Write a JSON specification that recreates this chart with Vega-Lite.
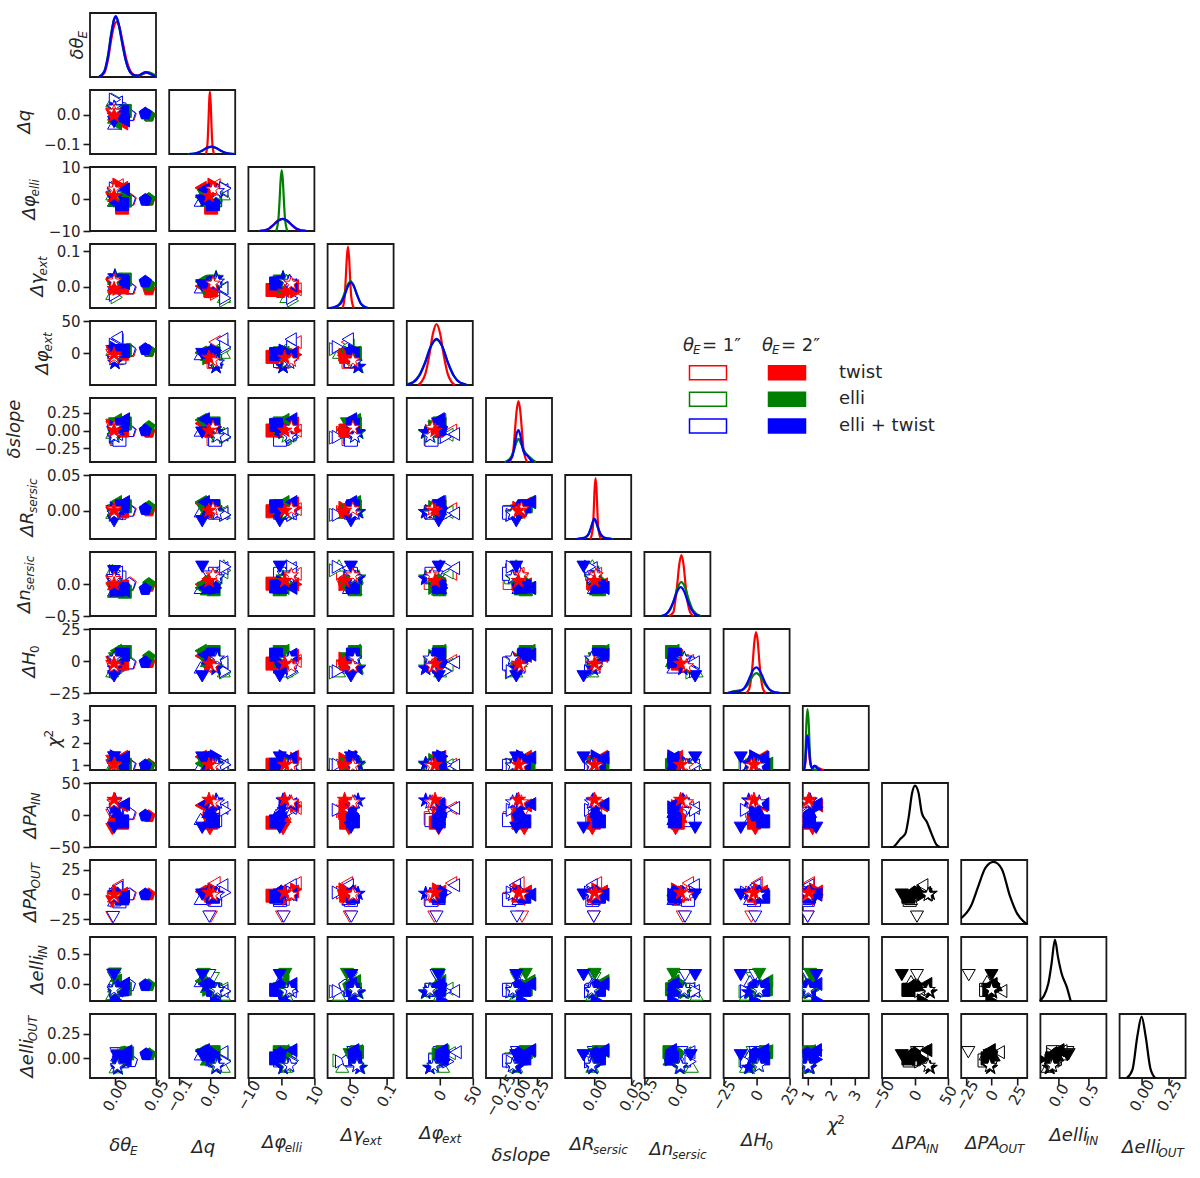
{"$schema":"https://vega.github.io/schema/vega-lite/v6.json","padding":{"left":4,"top":10,"right":5,"bottom":5},"background":"white","bounds":"flush","spacing":{"row":13,"column":13.2},"columns":14,
"config":{"view":{"continuousWidth":66,"continuousHeight":64,"stroke":"#1a1a1a","strokeWidth":1.8},"legend":{"disable":true},"point":{"size":170,"opacity":1,"strokeWidth":1},"line":{"strokeWidth":2.2,"interpolate":"monotone"},"text":{"font":"DejaVu Sans","fontSize":18,"color":"#262626"},
"range":{"category":["blue","blue","green","green","red","red"],"ordinal":["white","blue","white","green","white","red"],"symbol":["M0,-1L0.95,-0.31L0.59,0.81L-0.59,0.81L-0.95,-0.31Z","square","M0,-1.15L0.27,-0.36L1.1,-0.36L0.43,0.14L0.68,0.93L0,0.45L-0.68,0.93L-0.43,0.14L-1.1,-0.36L-0.27,-0.36Z","triangle-down","triangle-left","triangle-right","triangle-up"]},
"axis":{"disable":true,"grid":false,"domain":false,"tickSize":7,"tickWidth":1.6,"tickColor":"#1a1a1a","labelFont":"DejaVu Sans","labelFontSize":15,"labelColor":"#262626","labelOverlap":false,"labelBound":false,"labelFlush":false,"titleFont":"DejaVu Sans","titleFontSize":18,"titleFontStyle":"italic","titleFontWeight":"normal","titleColor":"#262626","titleAlign":"left","titleBaseline":"alphabetic"},
"axisY":{"titleAngle":-90,"labelPadding":3},"axisX":{"titleAngle":0,"labelAngle":-60,"labelAlign":"center","labelBaseline":"middle","labelPadding":10}},
"data":{"name":"pts"},
"datasets":{"pts":[
{"l":"square","s":"twist1","dt":0.006,"q":0.012,"pe":0.4,"ge":0.004,"px":-8,"sl":-0.12,"R":-0.002,"n":-0.03,"H":-2,"chi":1.0,"pai":-5,"pao":-6},
{"l":"triangle-up","s":"twist1","dt":0.004,"q":0,"pe":1,"ge":-0.005,"px":2,"sl":0.02,"R":0,"n":0.1,"H":1,"chi":1.0,"pai":2,"pao":2},
{"l":"triangle-left","s":"twist1","dt":0.007,"q":0.015,"pe":4.3,"ge":0,"px":20,"sl":0,"R":0.002,"n":0.1,"H":0,"chi":1.05,"pai":11,"pao":9},
{"l":"triangle-right","s":"twist1","dt":0.006,"q":0.02,"pe":2,"ge":-0.012,"px":6,"sl":-0.03,"R":-0.002,"n":0.1,"H":-4,"chi":1.02,"pai":6,"pao":0},
{"l":"triangle-down","s":"twist1","dt":0.001,"q":0.003,"pe":0.2,"ge":0.007,"px":-3,"sl":0.05,"R":-0.001,"n":0.03,"H":-4,"chi":1.0,"pai":0,"pao":-23},
{"l":"pentagon","s":"twist1","dt":0.021,"q":-0.003,"pe":-0.2,"ge":-0.006,"px":3,"sl":-0.01,"R":0,"n":0.01,"H":-2,"chi":1,"pai":1,"pao":0},
{"l":"square","s":"elli1","dt":0.007,"q":0.018,"pe":1,"ge":0.008,"px":-7,"sl":-0.1,"R":-0.002,"n":0.05,"H":-3,"chi":1.02,"ei":-0.1,"eo":-0.02},
{"l":"triangle-up","s":"elli1","dt":0.001,"q":0.045,"pe":1.5,"ge":-0.02,"px":5,"sl":-0.03,"R":-0.003,"n":0.22,"H":-8,"chi":1.02,"ei":-0.18,"eo":-0.09},
{"l":"triangle-left","s":"elli1","dt":0.006,"q":0.04,"pe":2.5,"ge":0.004,"px":15,"sl":-0.06,"R":-0.002,"n":0.12,"H":-3,"chi":1.03,"ei":-0.08,"eo":0.04},
{"l":"triangle-right","s":"elli1","dt":0.006,"q":0.05,"pe":3.5,"ge":-0.03,"px":10,"sl":-0.1,"R":-0.006,"n":0.15,"H":-9,"chi":1.05,"ei":-0.13,"eo":-0.03},
{"l":"triangle-down","s":"elli1","dt":0.003,"q":0.01,"pe":0.5,"ge":0.01,"px":2,"sl":-0.02,"R":0,"n":0.02,"H":-3,"chi":1.03,"ei":0.1,"eo":0.05},
{"l":"pentagon","s":"elli1","dt":0.02,"q":-0.001,"pe":-0.2,"ge":-0.005,"px":5,"sl":0,"R":0,"n":-0.02,"H":-1,"chi":1,"ei":-0.03,"eo":-0.03},
{"l":"square","s":"both1","dt":0.009,"q":0.017,"pe":-0.4,"ge":0.01,"px":-7,"sl":-0.13,"R":-0.003,"n":0.1,"H":-2,"chi":1.0,"pai":-8,"pao":-7,"ei":-0.1,"eo":-0.03},
{"l":"triangle-up","s":"both1","dt":0.003,"q":-0.03,"pe":-0.5,"ge":0.005,"px":3,"sl":0,"R":-0.001,"n":-0.1,"H":-5,"chi":1.0,"pai":-6,"pao":-6,"ei":0.05,"eo":0.03},
{"l":"triangle-left","s":"both1","dt":0.006,"q":0.04,"pe":2.8,"ge":0.002,"px":24,"sl":-0.05,"R":-0.004,"n":0.18,"H":-1,"chi":1.02,"pai":11,"pao":7,"ei":-0.12,"eo":0.05},
{"l":"triangle-right","s":"both1","dt":0.004,"q":0.05,"pe":3.3,"ge":-0.023,"px":13,"sl":-0.09,"R":-0.006,"n":0.2,"H":-8,"chi":1.05,"pai":8,"pao":0,"ei":-0.12,"eo":-0.04},
{"l":"triangle-down","s":"both1","dt":0.002,"q":-0.002,"pe":0.7,"ge":0.011,"px":0,"sl":-0.02,"R":-0.001,"n":0.06,"H":-1,"chi":1.0,"pai":3,"pao":-23,"ei":0.15,"eo":0.05},
{"l":"pentagon","s":"both1","dt":0.02,"q":-0.002,"pe":-0.3,"ge":-0.005,"px":4,"sl":-0.01,"R":-0.0005,"n":0,"H":-2,"chi":1,"pai":2,"pao":0,"ei":-0.03,"eo":-0.03},
{"l":"square","s":"twist2","dt":0.012,"q":0.004,"pe":-2.7,"ge":-0.002,"px":-1,"sl":0,"R":-0.001,"n":-0.04,"H":-2,"chi":1.05,"pai":-12,"pao":-3},
{"l":"triangle-up","s":"twist2","dt":0.003,"q":0,"pe":1,"ge":0,"px":0,"sl":0.02,"R":0,"n":0,"H":1,"chi":1.02,"pai":-3,"pao":-2},
{"l":"triangle-left","s":"twist2","dt":0.012,"q":-0.03,"pe":3.5,"ge":0.008,"px":5,"sl":0.1,"R":0.01,"n":-0.05,"H":4,"chi":1.38,"pai":15,"pao":1},
{"l":"triangle-right","s":"twist2","dt":0.008,"q":0.012,"pe":4.5,"ge":-0.006,"px":2,"sl":0,"R":0.004,"n":-0.05,"H":2,"chi":1.3,"pai":14,"pao":3},
{"l":"triangle-down","s":"twist2","dt":0.001,"q":0,"pe":0.5,"ge":0.005,"px":3,"sl":0.08,"R":-0.003,"n":-0.07,"H":-1,"chi":1.2,"pai":-22,"pao":-7},
{"l":"pentagon","s":"twist2","dt":0.042,"q":-0.004,"pe":-0.3,"ge":-0.008,"px":3,"sl":-0.02,"R":0,"n":-0.03,"H":-1,"chi":1.02,"pai":-2,"pao":0},
{"l":"square","s":"elli2","dt":0.015,"q":0.012,"pe":-0.5,"ge":0.02,"px":4,"sl":0.1,"R":0.006,"n":-0.12,"H":7,"chi":1.03,"ei":-0.09,"eo":0.05},
{"l":"triangle-up","s":"elli2","dt":0.003,"q":-0.01,"pe":-0.5,"ge":0.022,"px":2,"sl":0.03,"R":0.002,"n":-0.12,"H":0,"chi":1.05,"ei":-0.05,"eo":-0.02},
{"l":"triangle-left","s":"elli2","dt":0.005,"q":-0.03,"pe":0.6,"ge":0.02,"px":5,"sl":0.15,"R":0.012,"n":-0.1,"H":8,"chi":1.1,"ei":0.05,"eo":0.06},
{"l":"triangle-right","s":"elli2","dt":0.01,"q":-0.005,"pe":2,"ge":0.015,"px":-3,"sl":0.06,"R":0.005,"n":-0.1,"H":4,"chi":1.25,"ei":-0.1,"eo":0.03},
{"l":"triangle-down","s":"elli2","dt":0.004,"q":-0.02,"pe":1.2,"ge":0,"px":2,"sl":0.1,"R":0,"n":-0.1,"H":2,"chi":1.1,"ei":0.17,"eo":0.03},
{"l":"pentagon","s":"elli2","dt":0.042,"q":-0.004,"pe":0,"ge":0.005,"px":3,"sl":0.05,"R":0.005,"n":0,"H":3,"chi":1,"ei":-0.03,"eo":0.04},
{"l":"star","s":"elli2","dt":0.004,"q":0.02,"pe":0.5,"ge":0.03,"px":-15,"sl":-0.03,"R":-0.002,"n":0.05,"H":-5,"chi":1.05,"ei":-0.15,"eo":-0.1},
{"l":"square","s":"both2","dt":0.012,"q":0.01,"pe":-1.6,"ge":0.015,"px":3,"sl":0.08,"R":0.006,"n":-0.08,"H":5,"chi":1.05,"pai":-10,"pao":-4,"ei":-0.1,"eo":-0.01},
{"l":"triangle-up","s":"both2","dt":0.007,"q":-0.005,"pe":0,"ge":0.015,"px":5,"sl":0.02,"R":0.002,"n":-0.1,"H":2,"chi":1.1,"pai":5,"pao":2,"ei":-0.02,"eo":0.02},
{"l":"triangle-left","s":"both2","dt":0.014,"q":-0.02,"pe":3,"ge":0.01,"px":3,"sl":0.16,"R":0.012,"n":-0.1,"H":5,"chi":1.35,"pai":17,"pao":-2,"ei":0,"eo":0.07},
{"l":"triangle-right","s":"both2","dt":0.005,"q":0.02,"pe":1,"ge":0.018,"px":8,"sl":0.05,"R":0.003,"n":-0.1,"H":-1,"chi":1.4,"pai":12,"pao":-2,"ei":-0.28,"eo":-0.02},
{"l":"triangle-down","s":"both2","dt":0.003,"q":-0.025,"pe":-0.5,"ge":0.01,"px":3,"sl":-0.03,"R":-0.015,"n":0.2,"H":-12,"chi":1.35,"pai":-20,"pao":-2,"ei":0.15,"eo":0.02},
{"l":"pentagon","s":"both2","dt":0.038,"q":0.003,"pe":-0.3,"ge":0.014,"px":6,"sl":0,"R":0.002,"n":-0.08,"H":-1,"chi":1,"pai":-1,"pao":0,"ei":-0.03,"eo":0.04},
{"l":"star","s":"both2","dt":0.004,"q":0.02,"pe":0.5,"ge":0.028,"px":-15,"sl":-0.02,"R":-0.002,"n":0.03,"H":-6,"chi":1.1,"pai":23,"pao":-1,"ei":-0.14,"eo":-0.1},
{"l":"star","s":"elli1","dt":0.004,"q":0.02,"pe":1.5,"ge":0.02,"px":-8,"sl":-0.08,"R":-0.003,"n":0.04,"H":1,"chi":1.02,"ei":-0.12,"eo":-0.08},
{"l":"star","s":"both1","dt":0.003,"q":0.024,"pe":2.5,"ge":0.02,"px":-9,"sl":-0.08,"R":-0.004,"n":0.05,"H":2,"chi":1.02,"pai":20,"pao":-2,"ei":-0.1,"eo":-0.08},
{"l":"star","s":"twist1","dt":0.003,"q":0.01,"pe":3,"ge":0.015,"px":-6,"sl":0.04,"R":0.002,"n":0.08,"H":-4,"chi":1,"pai":20,"pao":-2},
{"l":"star","s":"twist2","dt":0.003,"q":-0.003,"pe":1,"ge":-0.006,"px":-2,"sl":0,"R":0,"n":0,"H":-2,"chi":1.05,"pai":24,"pao":0}
],
"c_dt":[{"s":"twist2","x":-0.014,"y":0},{"s":"twist2","x":-0.008,"y":0.06},{"s":"twist2","x":-0.004,"y":0.26},{"s":"twist2","x":0,"y":0.6},{"s":"twist2","x":0.003,"y":0.8},{"s":"twist2","x":0.006,"y":0.86},{"s":"twist2","x":0.009,"y":0.78},{"s":"twist2","x":0.013,"y":0.52},{"s":"twist2","x":0.017,"y":0.26},{"s":"twist2","x":0.021,"y":0.1},{"s":"twist2","x":0.026,"y":0.03},{"s":"twist2","x":0.031,"y":0.02},{"s":"twist2","x":0.036,"y":0.05},{"s":"twist2","x":0.04,"y":0.07},{"s":"twist2","x":0.045,"y":0.04},{"s":"twist2","x":0.05,"y":0.01},
{"s":"elli2","x":-0.014,"y":0},{"s":"elli2","x":-0.008,"y":0.09},{"s":"elli2","x":-0.004,"y":0.33},{"s":"elli2","x":0,"y":0.7},{"s":"elli2","x":0.003,"y":0.9},{"s":"elli2","x":0.005,"y":0.94},{"s":"elli2","x":0.008,"y":0.82},{"s":"elli2","x":0.012,"y":0.53},{"s":"elli2","x":0.016,"y":0.26},{"s":"elli2","x":0.02,"y":0.1},{"s":"elli2","x":0.025,"y":0.03},{"s":"elli2","x":0.03,"y":0.02},{"s":"elli2","x":0.035,"y":0.05},{"s":"elli2","x":0.04,"y":0.075},{"s":"elli2","x":0.045,"y":0.06},{"s":"elli2","x":0.05,"y":0.02},
{"s":"both2","x":-0.014,"y":0},{"s":"both2","x":-0.008,"y":0.08},{"s":"both2","x":-0.004,"y":0.3},{"s":"both2","x":0,"y":0.68},{"s":"both2","x":0.003,"y":0.9},{"s":"both2","x":0.005,"y":0.95},{"s":"both2","x":0.008,"y":0.84},{"s":"both2","x":0.012,"y":0.55},{"s":"both2","x":0.016,"y":0.27},{"s":"both2","x":0.02,"y":0.1},{"s":"both2","x":0.025,"y":0.03},{"s":"both2","x":0.03,"y":0.02},{"s":"both2","x":0.034,"y":0.05},{"s":"both2","x":0.038,"y":0.075},{"s":"both2","x":0.043,"y":0.05},{"s":"both2","x":0.05,"y":0.005}],
"c_q":[{"s":"twist2","x":-0.013,"y":0},{"s":"twist2","x":-0.0075,"y":0.19},{"s":"twist2","x":-0.005,"y":0.47},{"s":"twist2","x":-0.0025,"y":0.8},{"s":"twist2","x":-0.0005,"y":0.97},{"s":"twist2","x":0.001,"y":0.9},{"s":"twist2","x":0.0025,"y":0.8},{"s":"twist2","x":0.005,"y":0.47},{"s":"twist2","x":0.0075,"y":0.19},{"s":"twist2","x":0.013,"y":0},
{"s":"elli2","x":-0.07,"y":0},{"s":"elli2","x":-0.05,"y":0.008},{"s":"elli2","x":-0.038,"y":0.023},{"s":"elli2","x":-0.024,"y":0.056},{"s":"elli2","x":-0.009,"y":0.095},{"s":"elli2","x":0.004,"y":0.11},{"s":"elli2","x":0.019,"y":0.095},{"s":"elli2","x":0.034,"y":0.056},{"s":"elli2","x":0.048,"y":0.023},{"s":"elli2","x":0.063,"y":0.007},{"s":"elli2","x":0.08,"y":0},
{"s":"both2","x":-0.068,"y":0},{"s":"both2","x":-0.05,"y":0.008},{"s":"both2","x":-0.038,"y":0.023},{"s":"both2","x":-0.024,"y":0.056},{"s":"both2","x":-0.009,"y":0.097},{"s":"both2","x":0.005,"y":0.115},{"s":"both2","x":0.019,"y":0.097},{"s":"both2","x":0.034,"y":0.056},{"s":"both2","x":0.048,"y":0.023},{"s":"both2","x":0.063,"y":0.007},{"s":"both2","x":0.08,"y":0}],
"c_pe":[{"s":"twist2","x":-6.6,"y":0.002},{"s":"twist2","x":-5.1,"y":0.012},{"s":"twist2","x":-3.8,"y":0.038},{"s":"twist2","x":-2.5,"y":0.093},{"s":"twist2","x":-1.1,"y":0.16},{"s":"twist2","x":0.3,"y":0.19},{"s":"twist2","x":1.7,"y":0.16},{"s":"twist2","x":3.1,"y":0.093},{"s":"twist2","x":4.4,"y":0.038},{"s":"twist2","x":5.8,"y":0.012},{"s":"twist2","x":7.4,"y":0.002},
{"s":"elli2","x":-1.6,"y":0},{"s":"elli2","x":-0.9,"y":0.19},{"s":"elli2","x":-0.56,"y":0.47},{"s":"elli2","x":-0.23,"y":0.8},{"s":"elli2","x":0.1,"y":0.95},{"s":"elli2","x":0.43,"y":0.8},{"s":"elli2","x":0.76,"y":0.47},{"s":"elli2","x":1.1,"y":0.19},{"s":"elli2","x":1.8,"y":0},
{"s":"both2","x":-6.5,"y":0.002},{"s":"both2","x":-5,"y":0.012},{"s":"both2","x":-3.7,"y":0.038},{"s":"both2","x":-2.4,"y":0.093},{"s":"both2","x":-1,"y":0.16},{"s":"both2","x":0.4,"y":0.19},{"s":"both2","x":1.8,"y":0.16},{"s":"both2","x":3.2,"y":0.093},{"s":"both2","x":4.5,"y":0.038},{"s":"both2","x":5.9,"y":0.012},{"s":"both2","x":7.5,"y":0.002}],
"c_ge":[{"s":"twist2","x":-0.011,"y":0},{"s":"twist2","x":-0.0056,"y":0.19},{"s":"twist2","x":-0.003,"y":0.47},{"s":"twist2","x":-0.0002,"y":0.8},{"s":"twist2","x":0.0025,"y":0.96},{"s":"twist2","x":0.0052,"y":0.8},{"s":"twist2","x":0.008,"y":0.47},{"s":"twist2","x":0.0106,"y":0.19},{"s":"twist2","x":0.017,"y":0},
{"s":"elli2","x":-0.035,"y":0},{"s":"elli2","x":-0.025,"y":0.025},{"s":"elli2","x":-0.017,"y":0.08},{"s":"elli2","x":-0.008,"y":0.2},{"s":"elli2","x":0.001,"y":0.35},{"s":"elli2","x":0.009,"y":0.42},{"s":"elli2","x":0.017,"y":0.35},{"s":"elli2","x":0.026,"y":0.2},{"s":"elli2","x":0.034,"y":0.08},{"s":"elli2","x":0.043,"y":0.025},{"s":"elli2","x":0.052,"y":0},
{"s":"both2","x":-0.045,"y":0},{"s":"both2","x":-0.03,"y":0.02},{"s":"both2","x":-0.016,"y":0.07},{"s":"both2","x":-0.007,"y":0.18},{"s":"both2","x":0.002,"y":0.33},{"s":"both2","x":0.01,"y":0.4},{"s":"both2","x":0.018,"y":0.33},{"s":"both2","x":0.027,"y":0.18},{"s":"both2","x":0.035,"y":0.07},{"s":"both2","x":0.044,"y":0.02},{"s":"both2","x":0.053,"y":0}],
"c_px":[{"s":"twist2","x":-25,"y":0},{"s":"twist2","x":-20,"y":0.06},{"s":"twist2","x":-15,"y":0.19},{"s":"twist2","x":-10,"y":0.46},{"s":"twist2","x":-5,"y":0.8},{"s":"twist2","x":0,"y":0.95},{"s":"twist2","x":5,"y":0.8},{"s":"twist2","x":10,"y":0.46},{"s":"twist2","x":15,"y":0.19},{"s":"twist2","x":20,"y":0.06},{"s":"twist2","x":25,"y":0},
{"s":"elli2","x":-41,"y":0.01},{"s":"elli2","x":-32,"y":0.05},{"s":"elli2","x":-24,"y":0.15},{"s":"elli2","x":-16,"y":0.35},{"s":"elli2","x":-8,"y":0.6},{"s":"elli2","x":0,"y":0.71},{"s":"elli2","x":8,"y":0.6},{"s":"elli2","x":16,"y":0.34},{"s":"elli2","x":24,"y":0.14},{"s":"elli2","x":32,"y":0.04},{"s":"elli2","x":41,"y":0.008},
{"s":"both2","x":-41,"y":0.008},{"s":"both2","x":-32,"y":0.04},{"s":"both2","x":-24,"y":0.14},{"s":"both2","x":-16,"y":0.34},{"s":"both2","x":-8,"y":0.6},{"s":"both2","x":0,"y":0.72},{"s":"both2","x":8,"y":0.6},{"s":"both2","x":16,"y":0.34},{"s":"both2","x":24,"y":0.14},{"s":"both2","x":32,"y":0.04},{"s":"both2","x":41,"y":0.008}],
"c_sl":[{"s":"twist2","x":-0.12,"y":0},{"s":"twist2","x":-0.07,"y":0.19},{"s":"twist2","x":-0.05,"y":0.46},{"s":"twist2","x":-0.025,"y":0.8},{"s":"twist2","x":0,"y":0.95},{"s":"twist2","x":0.025,"y":0.8},{"s":"twist2","x":0.05,"y":0.46},{"s":"twist2","x":0.07,"y":0.19},{"s":"twist2","x":0.12,"y":0},
{"s":"elli2","x":-0.19,"y":0},{"s":"elli2","x":-0.14,"y":0.03},{"s":"elli2","x":-0.1,"y":0.08},{"s":"elli2","x":-0.06,"y":0.19},{"s":"elli2","x":-0.03,"y":0.3},{"s":"elli2","x":0,"y":0.36},{"s":"elli2","x":0.03,"y":0.3},{"s":"elli2","x":0.06,"y":0.22},{"s":"elli2","x":0.1,"y":0.14},{"s":"elli2","x":0.15,"y":0.08},{"s":"elli2","x":0.2,"y":0.03},{"s":"elli2","x":0.24,"y":0},
{"s":"both2","x":-0.17,"y":0},{"s":"both2","x":-0.12,"y":0.03},{"s":"both2","x":-0.08,"y":0.1},{"s":"both2","x":-0.05,"y":0.27},{"s":"both2","x":-0.025,"y":0.44},{"s":"both2","x":0,"y":0.5},{"s":"both2","x":0.025,"y":0.42},{"s":"both2","x":0.05,"y":0.25},{"s":"both2","x":0.08,"y":0.14},{"s":"both2","x":0.12,"y":0.1},{"s":"both2","x":0.17,"y":0.03},{"s":"both2","x":0.21,"y":0}],
"c_R":[{"s":"twist2","x":-0.0055,"y":0},{"s":"twist2","x":-0.0022,"y":0.19},{"s":"twist2","x":-0.001,"y":0.46},{"s":"twist2","x":0.0002,"y":0.8},{"s":"twist2","x":0.0014,"y":0.95},{"s":"twist2","x":0.0026,"y":0.8},{"s":"twist2","x":0.0038,"y":0.46},{"s":"twist2","x":0.005,"y":0.19},{"s":"twist2","x":0.0085,"y":0},
{"s":"elli2","x":-0.024,"y":0},{"s":"elli2","x":-0.017,"y":0.01},{"s":"elli2","x":-0.012,"y":0.03},{"s":"elli2","x":-0.008,"y":0.08},{"s":"elli2","x":-0.004,"y":0.2},{"s":"elli2","x":-0.002,"y":0.27},{"s":"elli2","x":0,"y":0.3},{"s":"elli2","x":0.002,"y":0.27},{"s":"elli2","x":0.004,"y":0.2},{"s":"elli2","x":0.008,"y":0.08},{"s":"elli2","x":0.012,"y":0.03},{"s":"elli2","x":0.017,"y":0.01},{"s":"elli2","x":0.025,"y":0},
{"s":"both2","x":-0.025,"y":0},{"s":"both2","x":-0.018,"y":0.01},{"s":"both2","x":-0.012,"y":0.03},{"s":"both2","x":-0.008,"y":0.08},{"s":"both2","x":-0.004,"y":0.21},{"s":"both2","x":-0.002,"y":0.28},{"s":"both2","x":-0.0005,"y":0.32},{"s":"both2","x":0.002,"y":0.28},{"s":"both2","x":0.004,"y":0.2},{"s":"both2","x":0.008,"y":0.08},{"s":"both2","x":0.012,"y":0.03},{"s":"both2","x":0.017,"y":0.01},{"s":"both2","x":0.024,"y":0}],
"c_n":[{"s":"twist2","x":-0.16,"y":0},{"s":"twist2","x":-0.1,"y":0.06},{"s":"twist2","x":-0.08,"y":0.19},{"s":"twist2","x":-0.05,"y":0.46},{"s":"twist2","x":-0.02,"y":0.8},{"s":"twist2","x":0.01,"y":0.95},{"s":"twist2","x":0.04,"y":0.8},{"s":"twist2","x":0.07,"y":0.46},{"s":"twist2","x":0.1,"y":0.19},{"s":"twist2","x":0.13,"y":0.06},{"s":"twist2","x":0.18,"y":0},
{"s":"elli2","x":-0.26,"y":0},{"s":"elli2","x":-0.19,"y":0.04},{"s":"elli2","x":-0.14,"y":0.11},{"s":"elli2","x":-0.09,"y":0.26},{"s":"elli2","x":-0.04,"y":0.45},{"s":"elli2","x":0.01,"y":0.53},{"s":"elli2","x":0.06,"y":0.45},{"s":"elli2","x":0.11,"y":0.26},{"s":"elli2","x":0.16,"y":0.11},{"s":"elli2","x":0.21,"y":0.04},{"s":"elli2","x":0.28,"y":0},
{"s":"both2","x":-0.27,"y":0},{"s":"both2","x":-0.2,"y":0.03},{"s":"both2","x":-0.15,"y":0.1},{"s":"both2","x":-0.1,"y":0.22},{"s":"both2","x":-0.05,"y":0.38},{"s":"both2","x":0,"y":0.45},{"s":"both2","x":0.05,"y":0.38},{"s":"both2","x":0.1,"y":0.22},{"s":"both2","x":0.15,"y":0.1},{"s":"both2","x":0.2,"y":0.03},{"s":"both2","x":0.27,"y":0}],
"c_H":[{"s":"twist2","x":-8,"y":0},{"s":"twist2","x":-5.7,"y":0.06},{"s":"twist2","x":-4.4,"y":0.19},{"s":"twist2","x":-3,"y":0.46},{"s":"twist2","x":-1.7,"y":0.8},{"s":"twist2","x":-0.4,"y":0.95},{"s":"twist2","x":0.9,"y":0.8},{"s":"twist2","x":2.2,"y":0.46},{"s":"twist2","x":3.6,"y":0.19},{"s":"twist2","x":4.9,"y":0.06},{"s":"twist2","x":7,"y":0},
{"s":"elli2","x":-22,"y":0},{"s":"elli2","x":-17,"y":0.03},{"s":"elli2","x":-13,"y":0.04},{"s":"elli2","x":-10,"y":0.06},{"s":"elli2","x":-7,"y":0.12},{"s":"elli2","x":-4,"y":0.23},{"s":"elli2","x":-2,"y":0.29},{"s":"elli2","x":0,"y":0.31},{"s":"elli2","x":2,"y":0.28},{"s":"elli2","x":4,"y":0.22},{"s":"elli2","x":7,"y":0.12},{"s":"elli2","x":10,"y":0.05},{"s":"elli2","x":14,"y":0.01},{"s":"elli2","x":18,"y":0},
{"s":"both2","x":-22,"y":0},{"s":"both2","x":-17,"y":0.02},{"s":"both2","x":-13,"y":0.03},{"s":"both2","x":-10,"y":0.06},{"s":"both2","x":-7,"y":0.16},{"s":"both2","x":-4,"y":0.3},{"s":"both2","x":-2,"y":0.38},{"s":"both2","x":0,"y":0.4},{"s":"both2","x":2,"y":0.36},{"s":"both2","x":4,"y":0.28},{"s":"both2","x":7,"y":0.14},{"s":"both2","x":10,"y":0.05},{"s":"both2","x":14,"y":0.01},{"s":"both2","x":18,"y":0}],
"c_chi":[{"s":"twist2","x":0.84,"y":0},{"s":"twist2","x":0.9,"y":0.1},{"s":"twist2","x":0.95,"y":0.35},{"s":"twist2","x":0.99,"y":0.45},{"s":"twist2","x":1.04,"y":0.35},{"s":"twist2","x":1.1,"y":0.12},{"s":"twist2","x":1.2,"y":0.04},{"s":"twist2","x":1.33,"y":0.06},{"s":"twist2","x":1.45,"y":0.03},{"s":"twist2","x":1.65,"y":0},
{"s":"elli2","x":0.84,"y":0},{"s":"elli2","x":0.9,"y":0.2},{"s":"elli2","x":0.95,"y":0.75},{"s":"elli2","x":0.99,"y":0.95},{"s":"elli2","x":1.04,"y":0.75},{"s":"elli2","x":1.09,"y":0.25},{"s":"elli2","x":1.14,"y":0.06},{"s":"elli2","x":1.25,"y":0.01},{"s":"elli2","x":1.4,"y":0},
{"s":"both2","x":0.84,"y":0},{"s":"both2","x":0.9,"y":0.12},{"s":"both2","x":0.95,"y":0.45},{"s":"both2","x":0.99,"y":0.54},{"s":"both2","x":1.04,"y":0.42},{"s":"both2","x":1.1,"y":0.14},{"s":"both2","x":1.17,"y":0.03},{"s":"both2","x":1.28,"y":0.07},{"s":"both2","x":1.38,"y":0.03},{"s":"both2","x":1.55,"y":0}],
"c_pai":[{"x":-38,"y":0},{"x":-34,"y":0},{"x":-22,"y":0.13},{"x":-14.5,"y":0.21},{"x":-9.5,"y":0.47},{"x":-4.5,"y":0.84},{"x":0,"y":0.96},{"x":5.5,"y":0.84},{"x":10.4,"y":0.53},{"x":18,"y":0.39},{"x":25,"y":0.21},{"x":33,"y":0.03},{"x":38,"y":0}],
"c_pao":[{"x":-30,"y":0.09},{"x":-21,"y":0.28},{"x":-14,"y":0.6},{"x":-7.5,"y":0.88},{"x":0,"y":0.97},{"x":7.5,"y":0.86},{"x":15,"y":0.44},{"x":21.5,"y":0.17},{"x":27.5,"y":0.04},{"x":31,"y":0}],
"c_ei":[{"x":-0.3,"y":0},{"x":-0.16,"y":0.27},{"x":-0.105,"y":0.59},{"x":-0.05,"y":0.96},{"x":0,"y":0.69},{"x":0.06,"y":0.43},{"x":0.145,"y":0.22},{"x":0.21,"y":0}],
"c_eo":[{"x":-0.134,"y":0},{"x":-0.083,"y":0.13},{"x":-0.038,"y":0.66},{"x":0,"y":0.96},{"x":0.036,"y":0.66},{"x":0.08,"y":0.15},{"x":0.125,"y":0}]},
"concat":[
{"data":{"name":"c_dt"},"layer":[{"mark":"line","encoding":{"x":{"field":"x","type":"quantitative","scale":{"domain":[-0.024,0.05]}},"y":{"field":"y","type":"quantitative","scale":{"domain":[0,1]},"axis":{"disable":false,"labels":false,"ticks":false,"title":"δθ","titleX":-8,"titleY":46}},"stroke":{"field":"s"}}},{"mark":{"type":"line","opacity":0},"encoding":{"y":{"field":"y","type":"quantitative","axis":{"disable":false,"orient":"left","labels":false,"ticks":false,"title":"E","titleFontSize":12,"titleX":-4,"titleY":25}}}}],"resolve":{"axis":{"y":"independent"}}},
{"mark":"point","data":{"values":[]},"view":{"stroke":null}},{"mark":"point","data":{"values":[]},"view":{"stroke":null}},{"mark":"point","data":{"values":[]},"view":{"stroke":null}},{"mark":"point","data":{"values":[]},"view":{"stroke":null}},{"mark":"point","data":{"values":[]},"view":{"stroke":null}},{"mark":"point","data":{"values":[]},"view":{"stroke":null}},{"mark":"point","data":{"values":[]},"view":{"stroke":null}},{"mark":"point","data":{"values":[]},"view":{"stroke":null}},{"mark":"point","data":{"values":[]},"view":{"stroke":null}},{"mark":"point","data":{"values":[]},"view":{"stroke":null}},{"mark":"point","data":{"values":[]},"view":{"stroke":null}},{"mark":"point","data":{"values":[]},"view":{"stroke":null}},{"mark":"point","data":{"values":[]},"view":{"stroke":null}},

{"mark":"point","encoding":{"x":{"field":"dt","type":"quantitative","scale":{"domain":[-0.024,0.05]}},"y":{"field":"q","type":"quantitative","scale":{"domain":[-0.132,0.082]},"axis":{"disable":false,"values":[-0.1,0],"format":".1f","title":"Δq","titleX":-61,"titleY":43}},"shape":{"field":"l"},"stroke":{"field":"s"},"fill":{"field":"s","type":"ordinal"}}},
{"data":{"name":"c_q"},"mark":"line","encoding":{"x":{"field":"x","type":"quantitative","scale":{"domain":[-0.132,0.082]}},"y":{"field":"y","type":"quantitative","scale":{"domain":[0,1]}},"stroke":{"field":"s"}}},
{"mark":"point","data":{"values":[]},"view":{"stroke":null}},{"mark":"point","data":{"values":[]},"view":{"stroke":null}},{"mark":"point","data":{"values":[]},"view":{"stroke":null}},{"mark":"point","data":{"values":[]},"view":{"stroke":null}},{"mark":"point","data":{"values":[]},"view":{"stroke":null}},{"mark":"point","data":{"values":[]},"view":{"stroke":null}},{"mark":"point","data":{"values":[]},"view":{"stroke":null}},{"mark":"point","data":{"values":[]},"view":{"stroke":null}},{"mark":"point","data":{"values":[]},"view":{"stroke":null}},{"mark":"point","data":{"values":[]},"view":{"stroke":null}},{"mark":"point","data":{"values":[]},"view":{"stroke":null}},{"mark":"point","data":{"values":[]},"view":{"stroke":null}},

{"layer":[{"mark":"point","encoding":{"x":{"field":"dt","type":"quantitative","scale":{"domain":[-0.024,0.05]}},"y":{"field":"pe","type":"quantitative","scale":{"domain":[-10,10]},"axis":{"disable":false,"values":[-10,0,10],"format":"d","title":"Δφ","titleX":-56,"titleY":52}},"shape":{"field":"l"},"stroke":{"field":"s"},"fill":{"field":"s","type":"ordinal"}}},{"mark":{"type":"point","opacity":0},"encoding":{"y":{"field":"pe","type":"quantitative","axis":{"disable":false,"orient":"left","labels":false,"ticks":false,"title":"elli","titleFontSize":12,"titleX":-52,"titleY":29}}}}],"resolve":{"axis":{"y":"independent"}}},
{"mark":"point","encoding":{"x":{"field":"q","type":"quantitative","scale":{"domain":[-0.132,0.082]}},"y":{"field":"pe","type":"quantitative","scale":{"domain":[-10,10]}},"shape":{"field":"l"},"stroke":{"field":"s"},"fill":{"field":"s","type":"ordinal"}}},
{"data":{"name":"c_pe"},"mark":"line","encoding":{"x":{"field":"x","type":"quantitative","scale":{"domain":[-10,10]}},"y":{"field":"y","type":"quantitative","scale":{"domain":[0,1]}},"stroke":{"field":"s"}}},
{"mark":"point","data":{"values":[]},"view":{"stroke":null}},{"mark":"point","data":{"values":[]},"view":{"stroke":null}},{"mark":"point","data":{"values":[]},"view":{"stroke":null}},{"mark":"point","data":{"values":[]},"view":{"stroke":null}},{"mark":"point","data":{"values":[]},"view":{"stroke":null}},{"mark":"point","data":{"values":[]},"view":{"stroke":null}},{"mark":"point","data":{"values":[]},"view":{"stroke":null}},{"mark":"point","data":{"values":[]},"view":{"stroke":null}},{"mark":"point","data":{"values":[]},"view":{"stroke":null}},{"mark":"point","data":{"values":[]},"view":{"stroke":null}},{"mark":"point","data":{"values":[]},"view":{"stroke":null}},

{"layer":[{"mark":"point","encoding":{"x":{"field":"dt","type":"quantitative","scale":{"domain":[-0.024,0.05]}},"y":{"field":"ge","type":"quantitative","scale":{"domain":[-0.049,0.118]},"axis":{"disable":false,"values":[0,0.1],"format":".1f","title":"Δγ","titleX":-48,"titleY":52}},"shape":{"field":"l"},"stroke":{"field":"s"},"fill":{"field":"s","type":"ordinal"}}},{"mark":{"type":"point","opacity":0},"encoding":{"y":{"field":"ge","type":"quantitative","axis":{"disable":false,"orient":"left","labels":false,"ticks":false,"title":"ext","titleFontSize":12,"titleX":-44,"titleY":31}}}}],"resolve":{"axis":{"y":"independent"}}},
{"mark":"point","encoding":{"x":{"field":"q","type":"quantitative","scale":{"domain":[-0.132,0.082]}},"y":{"field":"ge","type":"quantitative","scale":{"domain":[-0.049,0.118]}},"shape":{"field":"l"},"stroke":{"field":"s"},"fill":{"field":"s","type":"ordinal"}}},
{"mark":"point","encoding":{"x":{"field":"pe","type":"quantitative","scale":{"domain":[-10,10]}},"y":{"field":"ge","type":"quantitative","scale":{"domain":[-0.049,0.118]}},"shape":{"field":"l"},"stroke":{"field":"s"},"fill":{"field":"s","type":"ordinal"}}},
{"data":{"name":"c_ge"},"mark":"line","encoding":{"x":{"field":"x","type":"quantitative","scale":{"domain":[-0.049,0.118]}},"y":{"field":"y","type":"quantitative","scale":{"domain":[0,1]}},"stroke":{"field":"s"}}},
{"mark":"point","data":{"values":[]},"view":{"stroke":null}},{"mark":"point","data":{"values":[]},"view":{"stroke":null}},{"mark":"point","data":{"values":[]},"view":{"stroke":null}},{"mark":"point","data":{"values":[]},"view":{"stroke":null}},{"mark":"point","data":{"values":[]},"view":{"stroke":null}},{"mark":"point","data":{"values":[]},"view":{"stroke":null}},{"mark":"point","data":{"values":[]},"view":{"stroke":null}},{"mark":"point","data":{"values":[]},"view":{"stroke":null}},{"mark":"point","data":{"values":[]},"view":{"stroke":null}},{"mark":"point","data":{"values":[]},"view":{"stroke":null}},

{"layer":[{"mark":"point","encoding":{"x":{"field":"dt","type":"quantitative","scale":{"domain":[-0.024,0.05]}},"y":{"field":"px","type":"quantitative","scale":{"domain":[-41,50]},"axis":{"disable":false,"values":[0,50],"format":"d","title":"Δφ","titleX":-43,"titleY":53}},"shape":{"field":"l"},"stroke":{"field":"s"},"fill":{"field":"s","type":"ordinal"}}},{"mark":{"type":"point","opacity":0},"encoding":{"y":{"field":"px","type":"quantitative","axis":{"disable":false,"orient":"left","labels":false,"ticks":false,"title":"ext","titleFontSize":12,"titleX":-39,"titleY":30}}}}],"resolve":{"axis":{"y":"independent"}}},
{"mark":"point","encoding":{"x":{"field":"q","type":"quantitative","scale":{"domain":[-0.132,0.082]}},"y":{"field":"px","type":"quantitative","scale":{"domain":[-41,50]}},"shape":{"field":"l"},"stroke":{"field":"s"},"fill":{"field":"s","type":"ordinal"}}},
{"mark":"point","encoding":{"x":{"field":"pe","type":"quantitative","scale":{"domain":[-10,10]}},"y":{"field":"px","type":"quantitative","scale":{"domain":[-41,50]}},"shape":{"field":"l"},"stroke":{"field":"s"},"fill":{"field":"s","type":"ordinal"}}},
{"mark":"point","encoding":{"x":{"field":"ge","type":"quantitative","scale":{"domain":[-0.049,0.118]}},"y":{"field":"px","type":"quantitative","scale":{"domain":[-41,50]}},"shape":{"field":"l"},"stroke":{"field":"s"},"fill":{"field":"s","type":"ordinal"}}},
{"data":{"name":"c_px"},"mark":"line","encoding":{"x":{"field":"x","type":"quantitative","scale":{"domain":[-41,50]}},"y":{"field":"y","type":"quantitative","scale":{"domain":[0,1]}},"stroke":{"field":"s"}}},
{"width":66,"height":64,"view":{"stroke":null},"data":{"values":[{"c":"one","r":"twist","s":"twist1"},{"c":"one","r":"elli","s":"elli1"},{"c":"one","r":"both","s":"both1"},{"c":"two","r":"twist","s":"twist2","t":"twist"},{"c":"two","r":"elli","s":"elli2","t":"elli"},{"c":"two","r":"both","s":"both2","t":"elli + twist"},{"c":"one","r":"head","a":"θ","b":"E","d":"= 1″"},{"c":"two","r":"head","a":"θ","b":"E","d":"= 2″"}]},
"encoding":{"x":{"field":"c","type":"nominal","scale":{"type":"point","padding":0,"domain":["one","two"],"range":[222,301]}},"y":{"field":"r","type":"nominal","scale":{"type":"point","padding":0,"domain":["head","twist","elli","both"],"range":[25,105]}}},
"layer":[{"transform":[{"filter":"datum.s"}],"mark":{"type":"rect","width":37,"height":14,"strokeWidth":1.5},"encoding":{"stroke":{"field":"s"},"fill":{"field":"s","type":"ordinal"}}},
{"transform":[{"filter":"datum.t"}],"mark":{"type":"text","align":"left","dx":52},"encoding":{"text":{"field":"t"}}},
{"transform":[{"filter":"datum.a"}],"mark":{"type":"text","align":"left","dx":-25,"fontStyle":"italic"},"encoding":{"text":{"field":"a"}}},
{"transform":[{"filter":"datum.b"}],"mark":{"type":"text","align":"left","dx":-15,"dy":4,"fontSize":12,"fontStyle":"italic"},"encoding":{"text":{"field":"b"}}},
{"transform":[{"filter":"datum.d"}],"mark":{"type":"text","align":"left","dx":-6},"encoding":{"text":{"field":"d"}}}]},
{"mark":"point","data":{"values":[]},"view":{"stroke":null}},{"mark":"point","data":{"values":[]},"view":{"stroke":null}},{"mark":"point","data":{"values":[]},"view":{"stroke":null}},{"mark":"point","data":{"values":[]},"view":{"stroke":null}},{"mark":"point","data":{"values":[]},"view":{"stroke":null}},{"mark":"point","data":{"values":[]},"view":{"stroke":null}},{"mark":"point","data":{"values":[]},"view":{"stroke":null}},{"mark":"point","data":{"values":[]},"view":{"stroke":null}},

{"mark":"point","encoding":{"x":{"field":"dt","type":"quantitative","scale":{"domain":[-0.024,0.05]}},"y":{"field":"sl","type":"quantitative","scale":{"domain":[-0.445,0.46]},"axis":{"disable":false,"values":[-0.25,0,0.25],"format":".2f","title":"δslope","titleX":-71,"titleY":60}},"shape":{"field":"l"},"stroke":{"field":"s"},"fill":{"field":"s","type":"ordinal"}}},
{"mark":"point","encoding":{"x":{"field":"q","type":"quantitative","scale":{"domain":[-0.132,0.082]}},"y":{"field":"sl","type":"quantitative","scale":{"domain":[-0.445,0.46]}},"shape":{"field":"l"},"stroke":{"field":"s"},"fill":{"field":"s","type":"ordinal"}}},
{"mark":"point","encoding":{"x":{"field":"pe","type":"quantitative","scale":{"domain":[-10,10]}},"y":{"field":"sl","type":"quantitative","scale":{"domain":[-0.445,0.46]}},"shape":{"field":"l"},"stroke":{"field":"s"},"fill":{"field":"s","type":"ordinal"}}},
{"mark":"point","encoding":{"x":{"field":"ge","type":"quantitative","scale":{"domain":[-0.049,0.118]}},"y":{"field":"sl","type":"quantitative","scale":{"domain":[-0.445,0.46]}},"shape":{"field":"l"},"stroke":{"field":"s"},"fill":{"field":"s","type":"ordinal"}}},
{"mark":"point","encoding":{"x":{"field":"px","type":"quantitative","scale":{"domain":[-41,50]}},"y":{"field":"sl","type":"quantitative","scale":{"domain":[-0.445,0.46]}},"shape":{"field":"l"},"stroke":{"field":"s"},"fill":{"field":"s","type":"ordinal"}}},
{"data":{"name":"c_sl"},"mark":"line","encoding":{"x":{"field":"x","type":"quantitative","scale":{"domain":[-0.445,0.46]}},"y":{"field":"y","type":"quantitative","scale":{"domain":[0,1]}},"stroke":{"field":"s"}}},
{"mark":"point","data":{"values":[]},"view":{"stroke":null}},{"mark":"point","data":{"values":[]},"view":{"stroke":null}},{"mark":"point","data":{"values":[]},"view":{"stroke":null}},{"mark":"point","data":{"values":[]},"view":{"stroke":null}},{"mark":"point","data":{"values":[]},"view":{"stroke":null}},{"mark":"point","data":{"values":[]},"view":{"stroke":null}},{"mark":"point","data":{"values":[]},"view":{"stroke":null}},{"mark":"point","data":{"values":[]},"view":{"stroke":null}},

{"layer":[{"mark":"point","encoding":{"x":{"field":"dt","type":"quantitative","scale":{"domain":[-0.024,0.05]}},"y":{"field":"R","type":"quantitative","scale":{"domain":[-0.04,0.05]},"axis":{"disable":false,"values":[0,0.05],"format":".2f","title":"ΔR","titleX":-58,"titleY":61}},"shape":{"field":"l"},"stroke":{"field":"s"},"fill":{"field":"s","type":"ordinal"}}},{"mark":{"type":"point","opacity":0},"encoding":{"y":{"field":"R","type":"quantitative","axis":{"disable":false,"orient":"left","labels":false,"ticks":false,"title":"sersic","titleFontSize":12,"titleX":-54,"titleY":37.6}}}}],"resolve":{"axis":{"y":"independent"}}},
{"mark":"point","encoding":{"x":{"field":"q","type":"quantitative","scale":{"domain":[-0.132,0.082]}},"y":{"field":"R","type":"quantitative","scale":{"domain":[-0.04,0.05]}},"shape":{"field":"l"},"stroke":{"field":"s"},"fill":{"field":"s","type":"ordinal"}}},
{"mark":"point","encoding":{"x":{"field":"pe","type":"quantitative","scale":{"domain":[-10,10]}},"y":{"field":"R","type":"quantitative","scale":{"domain":[-0.04,0.05]}},"shape":{"field":"l"},"stroke":{"field":"s"},"fill":{"field":"s","type":"ordinal"}}},
{"mark":"point","encoding":{"x":{"field":"ge","type":"quantitative","scale":{"domain":[-0.049,0.118]}},"y":{"field":"R","type":"quantitative","scale":{"domain":[-0.04,0.05]}},"shape":{"field":"l"},"stroke":{"field":"s"},"fill":{"field":"s","type":"ordinal"}}},
{"mark":"point","encoding":{"x":{"field":"px","type":"quantitative","scale":{"domain":[-41,50]}},"y":{"field":"R","type":"quantitative","scale":{"domain":[-0.04,0.05]}},"shape":{"field":"l"},"stroke":{"field":"s"},"fill":{"field":"s","type":"ordinal"}}},
{"mark":"point","encoding":{"x":{"field":"sl","type":"quantitative","scale":{"domain":[-0.445,0.46]}},"y":{"field":"R","type":"quantitative","scale":{"domain":[-0.04,0.05]}},"shape":{"field":"l"},"stroke":{"field":"s"},"fill":{"field":"s","type":"ordinal"}}},
{"data":{"name":"c_R"},"mark":"line","encoding":{"x":{"field":"x","type":"quantitative","scale":{"domain":[-0.04,0.05]}},"y":{"field":"y","type":"quantitative","scale":{"domain":[0,1]}},"stroke":{"field":"s"}}},
{"mark":"point","data":{"values":[]},"view":{"stroke":null}},{"mark":"point","data":{"values":[]},"view":{"stroke":null}},{"mark":"point","data":{"values":[]},"view":{"stroke":null}},{"mark":"point","data":{"values":[]},"view":{"stroke":null}},{"mark":"point","data":{"values":[]},"view":{"stroke":null}},{"mark":"point","data":{"values":[]},"view":{"stroke":null}},{"mark":"point","data":{"values":[]},"view":{"stroke":null}},

{"layer":[{"mark":"point","encoding":{"x":{"field":"dt","type":"quantitative","scale":{"domain":[-0.024,0.05]}},"y":{"field":"n","type":"quantitative","scale":{"domain":[-0.5,0.41]},"axis":{"disable":false,"values":[-0.5,0],"format":".1f","title":"Δn","titleX":-61,"titleY":60.5}},"shape":{"field":"l"},"stroke":{"field":"s"},"fill":{"field":"s","type":"ordinal"}}},{"mark":{"type":"point","opacity":0},"encoding":{"y":{"field":"n","type":"quantitative","axis":{"disable":false,"orient":"left","labels":false,"ticks":false,"title":"sersic","titleFontSize":12,"titleX":-57,"titleY":38}}}}],"resolve":{"axis":{"y":"independent"}}},
{"mark":"point","encoding":{"x":{"field":"q","type":"quantitative","scale":{"domain":[-0.132,0.082]}},"y":{"field":"n","type":"quantitative","scale":{"domain":[-0.5,0.41]}},"shape":{"field":"l"},"stroke":{"field":"s"},"fill":{"field":"s","type":"ordinal"}}},
{"mark":"point","encoding":{"x":{"field":"pe","type":"quantitative","scale":{"domain":[-10,10]}},"y":{"field":"n","type":"quantitative","scale":{"domain":[-0.5,0.41]}},"shape":{"field":"l"},"stroke":{"field":"s"},"fill":{"field":"s","type":"ordinal"}}},
{"mark":"point","encoding":{"x":{"field":"ge","type":"quantitative","scale":{"domain":[-0.049,0.118]}},"y":{"field":"n","type":"quantitative","scale":{"domain":[-0.5,0.41]}},"shape":{"field":"l"},"stroke":{"field":"s"},"fill":{"field":"s","type":"ordinal"}}},
{"mark":"point","encoding":{"x":{"field":"px","type":"quantitative","scale":{"domain":[-41,50]}},"y":{"field":"n","type":"quantitative","scale":{"domain":[-0.5,0.41]}},"shape":{"field":"l"},"stroke":{"field":"s"},"fill":{"field":"s","type":"ordinal"}}},
{"mark":"point","encoding":{"x":{"field":"sl","type":"quantitative","scale":{"domain":[-0.445,0.46]}},"y":{"field":"n","type":"quantitative","scale":{"domain":[-0.5,0.41]}},"shape":{"field":"l"},"stroke":{"field":"s"},"fill":{"field":"s","type":"ordinal"}}},
{"mark":"point","encoding":{"x":{"field":"R","type":"quantitative","scale":{"domain":[-0.04,0.05]}},"y":{"field":"n","type":"quantitative","scale":{"domain":[-0.5,0.41]}},"shape":{"field":"l"},"stroke":{"field":"s"},"fill":{"field":"s","type":"ordinal"}}},
{"data":{"name":"c_n"},"mark":"line","encoding":{"x":{"field":"x","type":"quantitative","scale":{"domain":[-0.5,0.41]}},"y":{"field":"y","type":"quantitative","scale":{"domain":[0,1]}},"stroke":{"field":"s"}}},
{"mark":"point","data":{"values":[]},"view":{"stroke":null}},{"mark":"point","data":{"values":[]},"view":{"stroke":null}},{"mark":"point","data":{"values":[]},"view":{"stroke":null}},{"mark":"point","data":{"values":[]},"view":{"stroke":null}},{"mark":"point","data":{"values":[]},"view":{"stroke":null}},{"mark":"point","data":{"values":[]},"view":{"stroke":null}},

{"layer":[{"mark":"point","encoding":{"x":{"field":"dt","type":"quantitative","scale":{"domain":[-0.024,0.05]}},"y":{"field":"H","type":"quantitative","scale":{"domain":[-25,25]},"axis":{"disable":false,"values":[-25,0,25],"format":"d","title":"ΔH","titleX":-56,"titleY":48}},"shape":{"field":"l"},"stroke":{"field":"s"},"fill":{"field":"s","type":"ordinal"}}},{"mark":{"type":"point","opacity":0},"encoding":{"y":{"field":"H","type":"quantitative","axis":{"disable":false,"orient":"left","labels":false,"ticks":false,"title":"0","titleFontSize":12,"titleFontStyle":"normal","titleX":-52,"titleY":23.6}}}}],"resolve":{"axis":{"y":"independent"}}},
{"mark":"point","encoding":{"x":{"field":"q","type":"quantitative","scale":{"domain":[-0.132,0.082]}},"y":{"field":"H","type":"quantitative","scale":{"domain":[-25,25]}},"shape":{"field":"l"},"stroke":{"field":"s"},"fill":{"field":"s","type":"ordinal"}}},
{"mark":"point","encoding":{"x":{"field":"pe","type":"quantitative","scale":{"domain":[-10,10]}},"y":{"field":"H","type":"quantitative","scale":{"domain":[-25,25]}},"shape":{"field":"l"},"stroke":{"field":"s"},"fill":{"field":"s","type":"ordinal"}}},
{"mark":"point","encoding":{"x":{"field":"ge","type":"quantitative","scale":{"domain":[-0.049,0.118]}},"y":{"field":"H","type":"quantitative","scale":{"domain":[-25,25]}},"shape":{"field":"l"},"stroke":{"field":"s"},"fill":{"field":"s","type":"ordinal"}}},
{"mark":"point","encoding":{"x":{"field":"px","type":"quantitative","scale":{"domain":[-41,50]}},"y":{"field":"H","type":"quantitative","scale":{"domain":[-25,25]}},"shape":{"field":"l"},"stroke":{"field":"s"},"fill":{"field":"s","type":"ordinal"}}},
{"mark":"point","encoding":{"x":{"field":"sl","type":"quantitative","scale":{"domain":[-0.445,0.46]}},"y":{"field":"H","type":"quantitative","scale":{"domain":[-25,25]}},"shape":{"field":"l"},"stroke":{"field":"s"},"fill":{"field":"s","type":"ordinal"}}},
{"mark":"point","encoding":{"x":{"field":"R","type":"quantitative","scale":{"domain":[-0.04,0.05]}},"y":{"field":"H","type":"quantitative","scale":{"domain":[-25,25]}},"shape":{"field":"l"},"stroke":{"field":"s"},"fill":{"field":"s","type":"ordinal"}}},
{"mark":"point","encoding":{"x":{"field":"n","type":"quantitative","scale":{"domain":[-0.5,0.41]}},"y":{"field":"H","type":"quantitative","scale":{"domain":[-25,25]}},"shape":{"field":"l"},"stroke":{"field":"s"},"fill":{"field":"s","type":"ordinal"}}},
{"data":{"name":"c_H"},"mark":"line","encoding":{"x":{"field":"x","type":"quantitative","scale":{"domain":[-25,25]}},"y":{"field":"y","type":"quantitative","scale":{"domain":[0,1]}},"stroke":{"field":"s"}}},
{"mark":"point","data":{"values":[]},"view":{"stroke":null}},{"mark":"point","data":{"values":[]},"view":{"stroke":null}},{"mark":"point","data":{"values":[]},"view":{"stroke":null}},{"mark":"point","data":{"values":[]},"view":{"stroke":null}},{"mark":"point","data":{"values":[]},"view":{"stroke":null}},

{"layer":[{"mark":{"type":"point","clip":true},"encoding":{"x":{"field":"dt","type":"quantitative","scale":{"domain":[-0.024,0.05]}},"y":{"field":"chi","type":"quantitative","scale":{"domain":[0.83,3.5]},"axis":{"disable":false,"values":[1,2,3],"format":"d","title":"χ","titleX":-31,"titleY":41}},"shape":{"field":"l"},"stroke":{"field":"s"},"fill":{"field":"s","type":"ordinal"}}},{"mark":{"type":"point","opacity":0},"encoding":{"y":{"field":"chi","type":"quantitative","axis":{"disable":false,"orient":"left","labels":false,"ticks":false,"title":"2","titleFontSize":12,"titleFontStyle":"normal","titleX":-38,"titleY":31}}}}],"resolve":{"axis":{"y":"independent"}}},
{"mark":{"type":"point","clip":true},"encoding":{"x":{"field":"q","type":"quantitative","scale":{"domain":[-0.132,0.082]}},"y":{"field":"chi","type":"quantitative","scale":{"domain":[0.83,3.5]}},"shape":{"field":"l"},"stroke":{"field":"s"},"fill":{"field":"s","type":"ordinal"}}},
{"mark":{"type":"point","clip":true},"encoding":{"x":{"field":"pe","type":"quantitative","scale":{"domain":[-10,10]}},"y":{"field":"chi","type":"quantitative","scale":{"domain":[0.83,3.5]}},"shape":{"field":"l"},"stroke":{"field":"s"},"fill":{"field":"s","type":"ordinal"}}},
{"mark":{"type":"point","clip":true},"encoding":{"x":{"field":"ge","type":"quantitative","scale":{"domain":[-0.049,0.118]}},"y":{"field":"chi","type":"quantitative","scale":{"domain":[0.83,3.5]}},"shape":{"field":"l"},"stroke":{"field":"s"},"fill":{"field":"s","type":"ordinal"}}},
{"mark":{"type":"point","clip":true},"encoding":{"x":{"field":"px","type":"quantitative","scale":{"domain":[-41,50]}},"y":{"field":"chi","type":"quantitative","scale":{"domain":[0.83,3.5]}},"shape":{"field":"l"},"stroke":{"field":"s"},"fill":{"field":"s","type":"ordinal"}}},
{"mark":{"type":"point","clip":true},"encoding":{"x":{"field":"sl","type":"quantitative","scale":{"domain":[-0.445,0.46]}},"y":{"field":"chi","type":"quantitative","scale":{"domain":[0.83,3.5]}},"shape":{"field":"l"},"stroke":{"field":"s"},"fill":{"field":"s","type":"ordinal"}}},
{"mark":{"type":"point","clip":true},"encoding":{"x":{"field":"R","type":"quantitative","scale":{"domain":[-0.04,0.05]}},"y":{"field":"chi","type":"quantitative","scale":{"domain":[0.83,3.5]}},"shape":{"field":"l"},"stroke":{"field":"s"},"fill":{"field":"s","type":"ordinal"}}},
{"mark":{"type":"point","clip":true},"encoding":{"x":{"field":"n","type":"quantitative","scale":{"domain":[-0.5,0.41]}},"y":{"field":"chi","type":"quantitative","scale":{"domain":[0.83,3.5]}},"shape":{"field":"l"},"stroke":{"field":"s"},"fill":{"field":"s","type":"ordinal"}}},
{"mark":{"type":"point","clip":true},"encoding":{"x":{"field":"H","type":"quantitative","scale":{"domain":[-25,25]}},"y":{"field":"chi","type":"quantitative","scale":{"domain":[0.83,3.5]}},"shape":{"field":"l"},"stroke":{"field":"s"},"fill":{"field":"s","type":"ordinal"}}},
{"data":{"name":"c_chi"},"mark":"line","encoding":{"x":{"field":"x","type":"quantitative","scale":{"domain":[0.8,3.5]}},"y":{"field":"y","type":"quantitative","scale":{"domain":[0,1]}},"stroke":{"field":"s"}}},
{"mark":"point","data":{"values":[]},"view":{"stroke":null}},{"mark":"point","data":{"values":[]},"view":{"stroke":null}},{"mark":"point","data":{"values":[]},"view":{"stroke":null}},{"mark":"point","data":{"values":[]},"view":{"stroke":null}},

{"layer":[{"mark":"point","encoding":{"x":{"field":"dt","type":"quantitative","scale":{"domain":[-0.024,0.05]}},"y":{"field":"pai","type":"quantitative","scale":{"domain":[-50,50]},"axis":{"disable":false,"values":[-50,0,50],"format":"d","title":"ΔPA","titleX":-55,"titleY":55}},"shape":{"field":"l"},"stroke":{"field":"s"},"fill":{"field":"s","type":"ordinal"}}},{"mark":{"type":"point","opacity":0},"encoding":{"y":{"field":"pai","type":"quantitative","axis":{"disable":false,"orient":"left","labels":false,"ticks":false,"title":"IN","titleFontSize":12,"titleX":-51,"titleY":21.5}}}}],"resolve":{"axis":{"y":"independent"}}},
{"mark":"point","encoding":{"x":{"field":"q","type":"quantitative","scale":{"domain":[-0.132,0.082]}},"y":{"field":"pai","type":"quantitative","scale":{"domain":[-50,50]}},"shape":{"field":"l"},"stroke":{"field":"s"},"fill":{"field":"s","type":"ordinal"}}},
{"mark":"point","encoding":{"x":{"field":"pe","type":"quantitative","scale":{"domain":[-10,10]}},"y":{"field":"pai","type":"quantitative","scale":{"domain":[-50,50]}},"shape":{"field":"l"},"stroke":{"field":"s"},"fill":{"field":"s","type":"ordinal"}}},
{"mark":"point","encoding":{"x":{"field":"ge","type":"quantitative","scale":{"domain":[-0.049,0.118]}},"y":{"field":"pai","type":"quantitative","scale":{"domain":[-50,50]}},"shape":{"field":"l"},"stroke":{"field":"s"},"fill":{"field":"s","type":"ordinal"}}},
{"mark":"point","encoding":{"x":{"field":"px","type":"quantitative","scale":{"domain":[-41,50]}},"y":{"field":"pai","type":"quantitative","scale":{"domain":[-50,50]}},"shape":{"field":"l"},"stroke":{"field":"s"},"fill":{"field":"s","type":"ordinal"}}},
{"mark":"point","encoding":{"x":{"field":"sl","type":"quantitative","scale":{"domain":[-0.445,0.46]}},"y":{"field":"pai","type":"quantitative","scale":{"domain":[-50,50]}},"shape":{"field":"l"},"stroke":{"field":"s"},"fill":{"field":"s","type":"ordinal"}}},
{"mark":"point","encoding":{"x":{"field":"R","type":"quantitative","scale":{"domain":[-0.04,0.05]}},"y":{"field":"pai","type":"quantitative","scale":{"domain":[-50,50]}},"shape":{"field":"l"},"stroke":{"field":"s"},"fill":{"field":"s","type":"ordinal"}}},
{"mark":"point","encoding":{"x":{"field":"n","type":"quantitative","scale":{"domain":[-0.5,0.41]}},"y":{"field":"pai","type":"quantitative","scale":{"domain":[-50,50]}},"shape":{"field":"l"},"stroke":{"field":"s"},"fill":{"field":"s","type":"ordinal"}}},
{"mark":"point","encoding":{"x":{"field":"H","type":"quantitative","scale":{"domain":[-25,25]}},"y":{"field":"pai","type":"quantitative","scale":{"domain":[-50,50]}},"shape":{"field":"l"},"stroke":{"field":"s"},"fill":{"field":"s","type":"ordinal"}}},
{"mark":{"type":"point","clip":true},"encoding":{"x":{"field":"chi","type":"quantitative","scale":{"domain":[0.8,3.5]}},"y":{"field":"pai","type":"quantitative","scale":{"domain":[-50,50]}},"shape":{"field":"l"},"stroke":{"field":"s"},"fill":{"field":"s","type":"ordinal"}}},
{"data":{"name":"c_pai"},"mark":{"type":"line","stroke":"black"},"encoding":{"x":{"field":"x","type":"quantitative","scale":{"domain":[-50,50]}},"y":{"field":"y","type":"quantitative","scale":{"domain":[0,1]}}}},
{"mark":"point","data":{"values":[]},"view":{"stroke":null}},{"mark":"point","data":{"values":[]},"view":{"stroke":null}},{"mark":"point","data":{"values":[]},"view":{"stroke":null}},

{"layer":[{"mark":"point","encoding":{"x":{"field":"dt","type":"quantitative","scale":{"domain":[-0.024,0.05]}},"y":{"field":"pao","type":"quantitative","scale":{"domain":[-30,31]},"axis":{"disable":false,"values":[-25,0,25],"format":"d","title":"ΔPA","titleX":-55,"titleY":61.5}},"shape":{"field":"l"},"stroke":{"field":"s"},"fill":{"field":"s","type":"ordinal"}}},{"mark":{"type":"point","opacity":0},"encoding":{"y":{"field":"pao","type":"quantitative","axis":{"disable":false,"orient":"left","labels":false,"ticks":false,"title":"OUT","titleFontSize":12,"titleX":-51,"titleY":28}}}}],"resolve":{"axis":{"y":"independent"}}},
{"mark":"point","encoding":{"x":{"field":"q","type":"quantitative","scale":{"domain":[-0.132,0.082]}},"y":{"field":"pao","type":"quantitative","scale":{"domain":[-30,31]}},"shape":{"field":"l"},"stroke":{"field":"s"},"fill":{"field":"s","type":"ordinal"}}},
{"mark":"point","encoding":{"x":{"field":"pe","type":"quantitative","scale":{"domain":[-10,10]}},"y":{"field":"pao","type":"quantitative","scale":{"domain":[-30,31]}},"shape":{"field":"l"},"stroke":{"field":"s"},"fill":{"field":"s","type":"ordinal"}}},
{"mark":"point","encoding":{"x":{"field":"ge","type":"quantitative","scale":{"domain":[-0.049,0.118]}},"y":{"field":"pao","type":"quantitative","scale":{"domain":[-30,31]}},"shape":{"field":"l"},"stroke":{"field":"s"},"fill":{"field":"s","type":"ordinal"}}},
{"mark":"point","encoding":{"x":{"field":"px","type":"quantitative","scale":{"domain":[-41,50]}},"y":{"field":"pao","type":"quantitative","scale":{"domain":[-30,31]}},"shape":{"field":"l"},"stroke":{"field":"s"},"fill":{"field":"s","type":"ordinal"}}},
{"mark":"point","encoding":{"x":{"field":"sl","type":"quantitative","scale":{"domain":[-0.445,0.46]}},"y":{"field":"pao","type":"quantitative","scale":{"domain":[-30,31]}},"shape":{"field":"l"},"stroke":{"field":"s"},"fill":{"field":"s","type":"ordinal"}}},
{"mark":"point","encoding":{"x":{"field":"R","type":"quantitative","scale":{"domain":[-0.04,0.05]}},"y":{"field":"pao","type":"quantitative","scale":{"domain":[-30,31]}},"shape":{"field":"l"},"stroke":{"field":"s"},"fill":{"field":"s","type":"ordinal"}}},
{"mark":"point","encoding":{"x":{"field":"n","type":"quantitative","scale":{"domain":[-0.5,0.41]}},"y":{"field":"pao","type":"quantitative","scale":{"domain":[-30,31]}},"shape":{"field":"l"},"stroke":{"field":"s"},"fill":{"field":"s","type":"ordinal"}}},
{"mark":"point","encoding":{"x":{"field":"H","type":"quantitative","scale":{"domain":[-25,25]}},"y":{"field":"pao","type":"quantitative","scale":{"domain":[-30,31]}},"shape":{"field":"l"},"stroke":{"field":"s"},"fill":{"field":"s","type":"ordinal"}}},
{"mark":{"type":"point","clip":true},"encoding":{"x":{"field":"chi","type":"quantitative","scale":{"domain":[0.8,3.5]}},"y":{"field":"pao","type":"quantitative","scale":{"domain":[-30,31]}},"shape":{"field":"l"},"stroke":{"field":"s"},"fill":{"field":"s","type":"ordinal"}}},
{"transform":[{"filter":"datum.s=='both1'||datum.s=='both2'"}],"mark":"point","encoding":{"x":{"field":"pai","type":"quantitative","scale":{"domain":[-50,50]}},"y":{"field":"pao","type":"quantitative","scale":{"domain":[-30,31]}},"shape":{"field":"l"},"stroke":{"value":"black"},"fill":{"condition":{"test":"datum.s=='both2'","value":"black"},"value":"white"}}},
{"data":{"name":"c_pao"},"mark":{"type":"line","stroke":"black"},"encoding":{"x":{"field":"x","type":"quantitative","scale":{"domain":[-30,31]}},"y":{"field":"y","type":"quantitative","scale":{"domain":[0,1]}}}},
{"mark":"point","data":{"values":[]},"view":{"stroke":null}},{"mark":"point","data":{"values":[]},"view":{"stroke":null}},

{"layer":[{"mark":{"type":"point","clip":true},"encoding":{"x":{"field":"dt","type":"quantitative","scale":{"domain":[-0.024,0.05]}},"y":{"field":"ei","type":"quantitative","scale":{"domain":[-0.29,0.8]},"axis":{"disable":false,"values":[0,0.5],"format":".1f","title":"Δelli","titleX":-48,"titleY":56.4}},"shape":{"field":"l"},"stroke":{"field":"s"},"fill":{"field":"s","type":"ordinal"}}},{"mark":{"type":"point","opacity":0},"encoding":{"y":{"field":"ei","type":"quantitative","axis":{"disable":false,"orient":"left","labels":false,"ticks":false,"title":"IN","titleFontSize":12,"titleX":-44,"titleY":20.2}}}}],"resolve":{"axis":{"y":"independent"}}},
{"mark":{"type":"point","clip":true},"encoding":{"x":{"field":"q","type":"quantitative","scale":{"domain":[-0.132,0.082]}},"y":{"field":"ei","type":"quantitative","scale":{"domain":[-0.29,0.8]}},"shape":{"field":"l"},"stroke":{"field":"s"},"fill":{"field":"s","type":"ordinal"}}},
{"mark":{"type":"point","clip":true},"encoding":{"x":{"field":"pe","type":"quantitative","scale":{"domain":[-10,10]}},"y":{"field":"ei","type":"quantitative","scale":{"domain":[-0.29,0.8]}},"shape":{"field":"l"},"stroke":{"field":"s"},"fill":{"field":"s","type":"ordinal"}}},
{"mark":{"type":"point","clip":true},"encoding":{"x":{"field":"ge","type":"quantitative","scale":{"domain":[-0.049,0.118]}},"y":{"field":"ei","type":"quantitative","scale":{"domain":[-0.29,0.8]}},"shape":{"field":"l"},"stroke":{"field":"s"},"fill":{"field":"s","type":"ordinal"}}},
{"mark":{"type":"point","clip":true},"encoding":{"x":{"field":"px","type":"quantitative","scale":{"domain":[-41,50]}},"y":{"field":"ei","type":"quantitative","scale":{"domain":[-0.29,0.8]}},"shape":{"field":"l"},"stroke":{"field":"s"},"fill":{"field":"s","type":"ordinal"}}},
{"mark":{"type":"point","clip":true},"encoding":{"x":{"field":"sl","type":"quantitative","scale":{"domain":[-0.445,0.46]}},"y":{"field":"ei","type":"quantitative","scale":{"domain":[-0.29,0.8]}},"shape":{"field":"l"},"stroke":{"field":"s"},"fill":{"field":"s","type":"ordinal"}}},
{"mark":{"type":"point","clip":true},"encoding":{"x":{"field":"R","type":"quantitative","scale":{"domain":[-0.04,0.05]}},"y":{"field":"ei","type":"quantitative","scale":{"domain":[-0.29,0.8]}},"shape":{"field":"l"},"stroke":{"field":"s"},"fill":{"field":"s","type":"ordinal"}}},
{"mark":{"type":"point","clip":true},"encoding":{"x":{"field":"n","type":"quantitative","scale":{"domain":[-0.5,0.41]}},"y":{"field":"ei","type":"quantitative","scale":{"domain":[-0.29,0.8]}},"shape":{"field":"l"},"stroke":{"field":"s"},"fill":{"field":"s","type":"ordinal"}}},
{"mark":{"type":"point","clip":true},"encoding":{"x":{"field":"H","type":"quantitative","scale":{"domain":[-25,25]}},"y":{"field":"ei","type":"quantitative","scale":{"domain":[-0.29,0.8]}},"shape":{"field":"l"},"stroke":{"field":"s"},"fill":{"field":"s","type":"ordinal"}}},
{"mark":{"type":"point","clip":true},"encoding":{"x":{"field":"chi","type":"quantitative","scale":{"domain":[0.8,3.5]}},"y":{"field":"ei","type":"quantitative","scale":{"domain":[-0.29,0.8]}},"shape":{"field":"l"},"stroke":{"field":"s"},"fill":{"field":"s","type":"ordinal"}}},
{"mark":{"type":"point","clip":true},"encoding":{"x":{"field":"pai","type":"quantitative","scale":{"domain":[-50,50]}},"y":{"field":"ei","type":"quantitative","scale":{"domain":[-0.29,0.8]}},"shape":{"field":"l"},"stroke":{"value":"black"},"fill":{"condition":{"test":"datum.s=='both2'","value":"black"},"value":"white"}}},
{"mark":{"type":"point","clip":true},"encoding":{"x":{"field":"pao","type":"quantitative","scale":{"domain":[-30,31]}},"y":{"field":"ei","type":"quantitative","scale":{"domain":[-0.29,0.8]}},"shape":{"field":"l"},"stroke":{"value":"black"},"fill":{"condition":{"test":"datum.s=='both2'","value":"black"},"value":"white"}}},
{"data":{"name":"c_ei"},"mark":{"type":"line","stroke":"black"},"encoding":{"x":{"field":"x","type":"quantitative","scale":{"domain":[-0.29,0.8]}},"y":{"field":"y","type":"quantitative","scale":{"domain":[0,1]}}}},
{"mark":"point","data":{"values":[]},"view":{"stroke":null}},

{"layer":[{"mark":"point","encoding":{"x":{"field":"dt","type":"quantitative","scale":{"domain":[-0.024,0.05]},"axis":{"disable":false,"values":[0,0.05],"format":".2f","title":"δθ","titleX":18.8,"titleY":72,"encoding":{"labels":{"update":{"dy":{"signal":"4.1*length(datum.label)"}}}}}},"y":{"field":"eo","type":"quantitative","scale":{"domain":[-0.2,0.42]},"axis":{"disable":false,"values":[0,0.25],"format":".2f","title":"Δelli","titleX":-58,"titleY":63}},"shape":{"field":"l"},"stroke":{"field":"s"},"fill":{"field":"s","type":"ordinal"}}},{"mark":{"type":"point","opacity":0},"encoding":{"x":{"field":"dt","type":"quantitative","axis":{"disable":false,"orient":"bottom","labels":false,"ticks":false,"title":"E","titleFontSize":12,"titleX":39.6,"titleY":76}},"y":{"field":"eo","type":"quantitative","axis":{"disable":false,"orient":"left","labels":false,"ticks":false,"title":"OUT","titleFontSize":12,"titleX":-54,"titleY":26.8}}}}],"resolve":{"axis":{"x":"independent","y":"independent"}}},
{"mark":"point","encoding":{"x":{"field":"q","type":"quantitative","scale":{"domain":[-0.132,0.082]},"axis":{"disable":false,"values":[-0.1,0],"format":".1f","title":"Δq","titleX":21.8,"titleY":74,"encoding":{"labels":{"update":{"dy":{"signal":"4.1*length(datum.label)"}}}}}},"y":{"field":"eo","type":"quantitative","scale":{"domain":[-0.2,0.42]}},"shape":{"field":"l"},"stroke":{"field":"s"},"fill":{"field":"s","type":"ordinal"}}},
{"layer":[{"mark":"point","encoding":{"x":{"field":"pe","type":"quantitative","scale":{"domain":[-10,10]},"axis":{"disable":false,"values":[-10,0,10],"format":"d","title":"Δφ","titleX":13,"titleY":69,"encoding":{"labels":{"update":{"dy":{"signal":"4.1*length(datum.label)"}}}}}},"y":{"field":"eo","type":"quantitative","scale":{"domain":[-0.2,0.42]}},"shape":{"field":"l"},"stroke":{"field":"s"},"fill":{"field":"s","type":"ordinal"}}},{"mark":{"type":"point","opacity":0},"encoding":{"x":{"field":"pe","type":"quantitative","axis":{"disable":false,"orient":"bottom","labels":false,"ticks":false,"title":"elli","titleFontSize":12,"titleX":35.8,"titleY":73}}}}],"resolve":{"axis":{"x":"independent"}}},
{"layer":[{"mark":"point","encoding":{"x":{"field":"ge","type":"quantitative","scale":{"domain":[-0.049,0.118]},"axis":{"disable":false,"values":[0,0.1],"format":".1f","title":"Δγ","titleX":12.6,"titleY":62,"encoding":{"labels":{"update":{"dy":{"signal":"4.1*length(datum.label)"}}}}}},"y":{"field":"eo","type":"quantitative","scale":{"domain":[-0.2,0.42]}},"shape":{"field":"l"},"stroke":{"field":"s"},"fill":{"field":"s","type":"ordinal"}}},{"mark":{"type":"point","opacity":0},"encoding":{"x":{"field":"ge","type":"quantitative","axis":{"disable":false,"orient":"bottom","labels":false,"ticks":false,"title":"ext","titleFontSize":12,"titleX":34.2,"titleY":66}}}}],"resolve":{"axis":{"x":"independent"}}},
{"layer":[{"mark":"point","encoding":{"x":{"field":"px","type":"quantitative","scale":{"domain":[-41,50]},"axis":{"disable":false,"values":[0,50],"format":"d","title":"Δφ","titleX":12,"titleY":60,"encoding":{"labels":{"update":{"dy":{"signal":"4.1*length(datum.label)"}}}}}},"y":{"field":"eo","type":"quantitative","scale":{"domain":[-0.2,0.42]}},"shape":{"field":"l"},"stroke":{"field":"s"},"fill":{"field":"s","type":"ordinal"}}},{"mark":{"type":"point","opacity":0},"encoding":{"x":{"field":"px","type":"quantitative","axis":{"disable":false,"orient":"bottom","labels":false,"ticks":false,"title":"ext","titleFontSize":12,"titleX":34.8,"titleY":64}}}}],"resolve":{"axis":{"x":"independent"}}},
{"mark":"point","encoding":{"x":{"field":"sl","type":"quantitative","scale":{"domain":[-0.445,0.46]},"axis":{"disable":false,"values":[-0.25,0,0.25],"format":".2f","title":"δslope","titleX":5,"titleY":82,"encoding":{"labels":{"update":{"dy":{"signal":"4.1*length(datum.label)"}}}}}},"y":{"field":"eo","type":"quantitative","scale":{"domain":[-0.2,0.42]}},"shape":{"field":"l"},"stroke":{"field":"s"},"fill":{"field":"s","type":"ordinal"}}},
{"layer":[{"mark":"point","encoding":{"x":{"field":"R","type":"quantitative","scale":{"domain":[-0.04,0.05]},"axis":{"disable":false,"values":[0,0.05],"format":".2f","title":"ΔR","titleX":4,"titleY":71,"encoding":{"labels":{"update":{"dy":{"signal":"4.1*length(datum.label)"}}}}}},"y":{"field":"eo","type":"quantitative","scale":{"domain":[-0.2,0.42]}},"shape":{"field":"l"},"stroke":{"field":"s"},"fill":{"field":"s","type":"ordinal"}}},{"mark":{"type":"point","opacity":0},"encoding":{"x":{"field":"R","type":"quantitative","axis":{"disable":false,"orient":"bottom","labels":false,"ticks":false,"title":"sersic","titleFontSize":12,"titleX":27.4,"titleY":75}}}}],"resolve":{"axis":{"x":"independent"}}},
{"layer":[{"mark":"point","encoding":{"x":{"field":"n","type":"quantitative","scale":{"domain":[-0.5,0.41]},"axis":{"disable":false,"values":[-0.5,0],"format":".1f","title":"Δn","titleX":4.5,"titleY":76,"encoding":{"labels":{"update":{"dy":{"signal":"4.1*length(datum.label)"}}}}}},"y":{"field":"eo","type":"quantitative","scale":{"domain":[-0.2,0.42]}},"shape":{"field":"l"},"stroke":{"field":"s"},"fill":{"field":"s","type":"ordinal"}}},{"mark":{"type":"point","opacity":0},"encoding":{"x":{"field":"n","type":"quantitative","axis":{"disable":false,"orient":"bottom","labels":false,"ticks":false,"title":"sersic","titleFontSize":12,"titleX":27,"titleY":80}}}}],"resolve":{"axis":{"x":"independent"}}},
{"layer":[{"mark":"point","encoding":{"x":{"field":"H","type":"quantitative","scale":{"domain":[-25,25]},"axis":{"disable":false,"values":[-25,0,25],"format":"d","title":"ΔH","titleX":17,"titleY":67,"encoding":{"labels":{"update":{"dy":{"signal":"4.1*length(datum.label)"}}}}}},"y":{"field":"eo","type":"quantitative","scale":{"domain":[-0.2,0.42]}},"shape":{"field":"l"},"stroke":{"field":"s"},"fill":{"field":"s","type":"ordinal"}}},{"mark":{"type":"point","opacity":0},"encoding":{"x":{"field":"H","type":"quantitative","axis":{"disable":false,"orient":"bottom","labels":false,"ticks":false,"title":"0","titleFontSize":12,"titleFontStyle":"normal","titleX":41.4,"titleY":71}}}}],"resolve":{"axis":{"x":"independent"}}},
{"layer":[{"mark":{"type":"point","clip":true},"encoding":{"x":{"field":"chi","type":"quantitative","scale":{"domain":[0.8,3.5]},"axis":{"disable":false,"values":[1,2,3],"format":"d","title":"χ","titleX":24,"titleY":52,"encoding":{"labels":{"update":{"dy":{"signal":"4.1*length(datum.label)"}}}}}},"y":{"field":"eo","type":"quantitative","scale":{"domain":[-0.2,0.42]}},"shape":{"field":"l"},"stroke":{"field":"s"},"fill":{"field":"s","type":"ordinal"}}},{"mark":{"type":"point","opacity":0},"encoding":{"x":{"field":"chi","type":"quantitative","axis":{"disable":false,"orient":"bottom","labels":false,"ticks":false,"title":"2","titleFontSize":12,"titleFontStyle":"normal","titleX":34,"titleY":45}}}}],"resolve":{"axis":{"x":"independent"}}},
{"layer":[{"mark":"point","encoding":{"x":{"field":"pai","type":"quantitative","scale":{"domain":[-50,50]},"axis":{"disable":false,"values":[-50,0,50],"format":"d","title":"ΔPA","titleX":10,"titleY":70,"encoding":{"labels":{"update":{"dy":{"signal":"4.1*length(datum.label)"}}}}}},"y":{"field":"eo","type":"quantitative","scale":{"domain":[-0.2,0.42]}},"shape":{"field":"l"},"stroke":{"value":"black"},"fill":{"condition":{"test":"datum.s=='both2'","value":"black"},"value":"white"}}},{"mark":{"type":"point","opacity":0},"encoding":{"x":{"field":"pai","type":"quantitative","axis":{"disable":false,"orient":"bottom","labels":false,"ticks":false,"title":"IN","titleFontSize":12,"titleX":43.5,"titleY":74}}}}],"resolve":{"axis":{"x":"independent"}}},
{"layer":[{"mark":"point","encoding":{"x":{"field":"pao","type":"quantitative","scale":{"domain":[-30,31]},"axis":{"disable":false,"values":[-25,0,25],"format":"d","title":"ΔPA","titleX":3.5,"titleY":70,"encoding":{"labels":{"update":{"dy":{"signal":"4.1*length(datum.label)"}}}}}},"y":{"field":"eo","type":"quantitative","scale":{"domain":[-0.2,0.42]}},"shape":{"field":"l"},"stroke":{"value":"black"},"fill":{"condition":{"test":"datum.s=='both2'","value":"black"},"value":"white"}}},{"mark":{"type":"point","opacity":0},"encoding":{"x":{"field":"pao","type":"quantitative","axis":{"disable":false,"orient":"bottom","labels":false,"ticks":false,"title":"OUT","titleFontSize":12,"titleX":37,"titleY":74}}}}],"resolve":{"axis":{"x":"independent"}}},
{"layer":[{"mark":{"type":"point","clip":true},"encoding":{"x":{"field":"ei","type":"quantitative","scale":{"domain":[-0.29,0.8]},"axis":{"disable":false,"values":[0,0.5],"format":".1f","title":"Δelli","titleX":8.6,"titleY":62,"encoding":{"labels":{"update":{"dy":{"signal":"4.1*length(datum.label)"}}}}}},"y":{"field":"eo","type":"quantitative","scale":{"domain":[-0.2,0.42]}},"shape":{"field":"l"},"stroke":{"value":"black"},"fill":{"condition":{"test":"datum.s=='both2'","value":"black"},"value":"white"}}},{"mark":{"type":"point","opacity":0},"encoding":{"x":{"field":"ei","type":"quantitative","axis":{"disable":false,"orient":"bottom","labels":false,"ticks":false,"title":"IN","titleFontSize":12,"titleX":44.8,"titleY":66}}}}],"resolve":{"axis":{"x":"independent"}}},
{"data":{"name":"c_eo"},"layer":[{"mark":{"type":"line","stroke":"black"},"encoding":{"x":{"field":"x","type":"quantitative","scale":{"domain":[-0.19,0.4]},"axis":{"disable":false,"values":[0,0.25],"format":".2f","title":"Δelli","titleX":2,"titleY":74,"encoding":{"labels":{"update":{"dy":{"signal":"4.1*length(datum.label)"}}}}}},"y":{"field":"y","type":"quantitative","scale":{"domain":[0,1]}}}},{"mark":{"type":"line","opacity":0},"encoding":{"x":{"field":"x","type":"quantitative","axis":{"disable":false,"orient":"bottom","labels":false,"ticks":false,"title":"OUT","titleFontSize":12,"titleX":38.2,"titleY":78}}}}],"resolve":{"axis":{"x":"independent"}}}
]}
